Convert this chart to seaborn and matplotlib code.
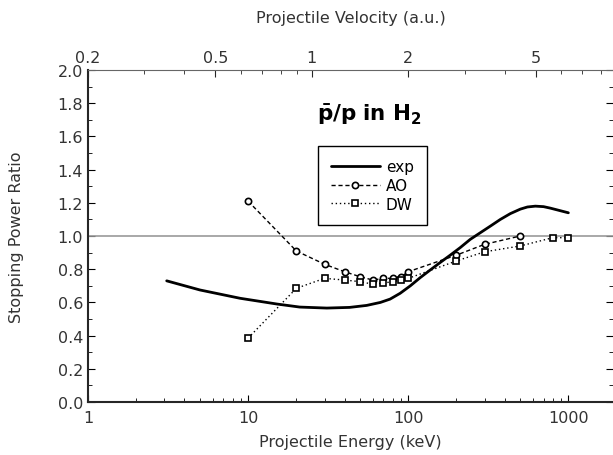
import matplotlib
matplotlib.use('Agg')
import matplotlib.pyplot as plt
import matplotlib.ticker as mticker
import numpy as np
import pandas as pd
import seaborn as sns

exp_E = [3.1, 5.0, 8.9, 15.2, 21, 31, 43, 55, 67, 77, 89, 103, 119, 137, 158, 183, 211,
         244, 282, 326, 376, 434, 501, 555, 622, 700, 772, 1000]
exp_R = [0.73, 0.675, 0.625, 0.59, 0.572, 0.566, 0.57, 0.582, 0.60, 0.62, 0.655, 0.70, 0.75,
         0.795, 0.84, 0.885, 0.93, 0.98, 1.02, 1.06, 1.10, 1.135, 1.162, 1.175, 1.18, 1.177,
         1.168, 1.14]

# AO calculation
ao_E = [10, 20, 30, 40, 50, 60, 70, 80, 90, 100, 200, 300, 500]
ao_R = [1.21, 0.91, 0.83, 0.785, 0.755, 0.735, 0.745, 0.745, 0.755, 0.785, 0.885, 0.95, 1.0]

# DW calculation
dw_E = [10, 20, 30, 40, 50, 60, 70, 80, 90, 100, 200, 300, 500, 800, 1000]
dw_R = [0.385, 0.685, 0.745, 0.735, 0.725, 0.71, 0.717, 0.725, 0.735, 0.745, 0.85, 0.905, 0.94, 0.99, 0.99]

vel_ticks = [0.2, 0.5, 1, 2, 5]
vel_minor = [0.3, 0.4, 0.6, 0.7, 0.8, 0.9, 3, 4, 6, 7, 8]

sns.set_style('ticks')
plt.rcParams['font.family'] = ['DejaVu Sans']
plt.rcParams['mathtext.fontset'] = 'dejavusans'
plt.rcParams['text.color'] = 'black'

fig = plt.figure(figsize=(6.13, 4.56), dpi=100)
ax = fig.add_axes([0.1436, 0.1162, 0.8564, 0.728])

ax.axhline(1.0, color='#999999', lw=1.2, zorder=1)

exp_df = pd.DataFrame({'E': exp_E, 'R': exp_R})
ao_df = pd.DataFrame({'E': ao_E, 'R': ao_R})
dw_df = pd.DataFrame({'E': dw_E, 'R': dw_R})

sns.lineplot(data=exp_df, x='E', y='R', ax=ax, color='black', lw=2.0, label='exp',
             solid_joinstyle='round')
sns.lineplot(data=ao_df, x='E', y='R', ax=ax, color='black', lw=1.0, linestyle=(0, (3, 2)),
             marker='o', markersize=4.5, markerfacecolor='white', markeredgecolor='black',
             markeredgewidth=1.2, label='AO')
sns.lineplot(data=dw_df, x='E', y='R', ax=ax, color='black', lw=1.0, linestyle=(0, (1, 2)),
             marker='s', markersize=4.5, markerfacecolor='white', markeredgecolor='black',
             markeredgewidth=1.2, label='DW')

ax.set_xscale('log')
ax.set_xlim(1, 1900)
ax.set_ylim(0, 2.0)
ax.xaxis.set_major_formatter(mticker.FuncFormatter(lambda v, p: '%g' % v))
ax.yaxis.set_major_locator(mticker.MultipleLocator(0.2))
ax.yaxis.set_minor_locator(mticker.MultipleLocator(0.1))
ax.yaxis.set_major_formatter(mticker.FormatStrFormatter('%.1f'))
ax.tick_params(which='both', direction='in', right=True, labelsize=11.5, colors='black',
               labelcolor='#333333')
ax.tick_params(which='major', length=5)
ax.tick_params(which='minor', length=3)
ax.tick_params(axis='x', pad=6)
ax.spines['right'].set_visible(False)
ax.spines['left'].set_linewidth(1.5)
ax.spines['bottom'].set_linewidth(1.5)
ax.spines['top'].set_color('#666666')

ax.set_xlabel('Projectile Energy (keV)', fontsize=11.5, color='#333333', labelpad=6)
ax.set_ylabel('Stopping Power Ratio', fontsize=11.5, color='#333333', labelpad=24)

top = ax.secondary_xaxis('top', functions=(lambda e: np.sqrt(np.abs(e) / 25.0),
                                           lambda v: 25.0 * np.asarray(v) ** 2))
top.set_xticks(vel_ticks)
top.set_xticks(vel_minor, minor=True)
top.set_xticklabels(['0.2', '0.5', '1', '2', '5'])
top.xaxis.set_minor_formatter(mticker.NullFormatter())
top.tick_params(which='both', direction='in', labelsize=11.5, labelcolor='#333333')
top.tick_params(which='major', length=5)
top.tick_params(which='minor', length=3)
top.spines['top'].set_visible(False)
top.set_xlabel('Projectile Velocity (a.u.)', fontsize=11.5, color='#333333', labelpad=20)

ax.text(0.535, 0.87, r'$\mathbf{\bar{p}/p\ in\ H_2}$', transform=ax.transAxes,
        fontsize=15.5, ha='center', va='center', color='black')

leg = ax.legend(loc='upper left', bbox_to_anchor=(0.438, 0.771), borderaxespad=0,
                fancybox=False, edgecolor='black', framealpha=1, fontsize=11,
                handlelength=3.2, handletextpad=0.4, labelspacing=0.25, borderpad=0.85)
leg.get_frame().set_linewidth(1.0)

fig.savefig('out.png', dpi=100)
